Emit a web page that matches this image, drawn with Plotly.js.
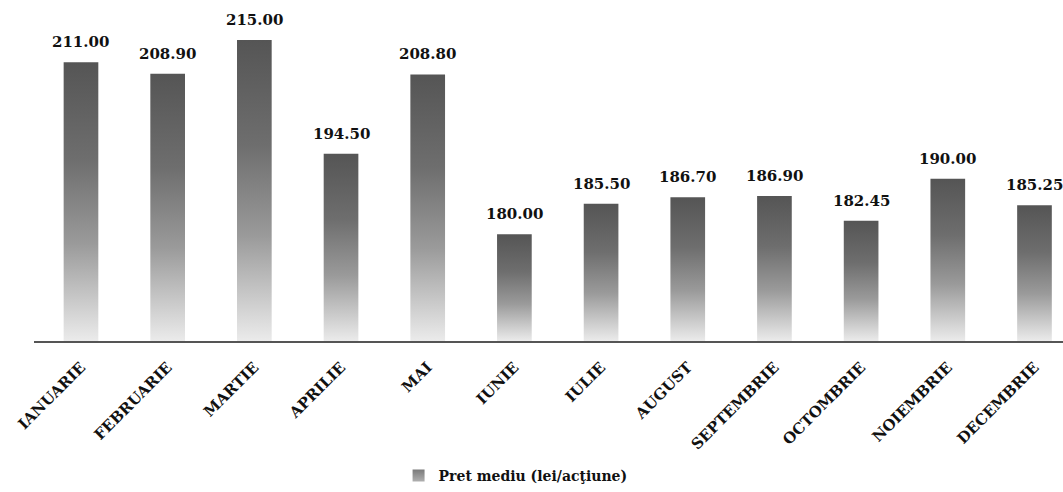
<!DOCTYPE html>
<html>
<head>
<meta charset="utf-8">
<script src="https://cdn.plot.ly/plotly-3.0.1.min.js"></script>
<style>
  html, body { margin: 0; padding: 0; background: #ffffff; }
  #chart { width: 1063px; height: 492px; }
</style>
</head>
<body>
<div id="chart"></div>
<script>
const months = ["IANUARIE", "FEBRUARIE", "MARTIE", "APRILIE", "MAI", "IUNIE", "IULIE", "AUGUST", "SEPTEMBRIE", "OCTOMBRIE", "NOIEMBRIE", "DECEMBRIE"];
const prices = [211.00, 208.90, 215.00, 194.50, 208.80, 180.00, 185.50, 186.70, 186.90, 182.45, 190.00, 185.25];
const priceLabels = ["211.00", "208.90", "215.00", "194.50", "208.80", "180.00", "185.50", "186.70", "186.90", "182.45", "190.00", "185.25"];
const seriesName = "Pret mediu (lei/acţiune)";

const FONT = "DejaVu Serif, Liberation Serif, serif";
const gradStops = [["0", "#555555"], ["0.35", "#6e6e6e"], ["0.65", "#9a9a9a"], ["1", "#ebebeb"]];
const legendStops = [["0", "#7a7a7a"], ["1", "#b0b0b0"]];

const trace = {
  type: "bar",
  x: months,
  y: prices,
  name: seriesName,
  width: 0.4,
  marker: { color: "#808080", line: { width: 0 } },
  textposition: "none",
  hoverinfo: "skip",
  showlegend: true
};

const annotations = months.map((m, i) => ({
  x: m,
  y: prices[i],
  xref: "x",
  yref: "y",
  text: priceLabels[i],
  showarrow: false,
  yanchor: "bottom",
  xanchor: "center",
  yshift: 9,
  font: { family: FONT, size: 15, color: "#111111", weight: "bold" }
}));

const layout = {
  width: 1063,
  height: 492,
  margin: { l: 34, r: 0, t: 0, b: 150 },
  paper_bgcolor: "#ffffff",
  plot_bgcolor: "#ffffff",
  showlegend: true,
  legend: {
    orientation: "h",
    x: 0.468,
    xanchor: "center",
    y: -0.395,
    yanchor: "middle",
    font: { family: FONT, size: 14, color: "#111111", weight: "bold" },
    itemwidth: 30,
    bgcolor: "rgba(0,0,0,0)"
  },
  xaxis: {
    type: "category",
    range: [-0.542, 11.329],
    tickangle: -45,
    tickfont: { family: FONT, size: 15, color: "#111111", weight: "bold" },
    ticklabelstandoff: 10,
    showline: true,
    linecolor: "#555555",
    linewidth: 1.5,
    ticks: "",
    showgrid: false,
    zeroline: false,
    automargin: false
  },
  yaxis: {
    range: [160.8, 222.2],
    visible: false,
    showgrid: false,
    zeroline: false,
    fixedrange: true
  },
  annotations: annotations,
  bargap: 0.6
};

function applyGradients(gd) {
  const svgNS = "http://www.w3.org/2000/svg";
  const svg = gd.querySelector("svg.main-svg");
  let defs = svg.querySelector("defs");
  if (!defs) { defs = document.createElementNS(svgNS, "defs"); svg.insertBefore(defs, svg.firstChild); }
  const plotH = gd._fullLayout._size.h;
  const barPaths = Array.from(gd.querySelectorAll(".bars .point path"));
  const legPaths = Array.from(gd.querySelectorAll(".legendpoints path"));
  const all = barPaths.map(p => [p, true]).concat(legPaths.map(p => [p, false]));
  all.forEach(([p, isBar], k) => {
    const bb = p.getBBox();
    const id = "barGrad" + k;
    const old = document.getElementById(id);
    if (old) old.remove();
    let y1 = bb.y, y2 = bb.y + bb.height;
    if (isBar) { y1 = Math.max(y1, 0); y2 = Math.min(y2, plotH); }
    const grad = document.createElementNS(svgNS, "linearGradient");
    grad.setAttribute("id", id);
    grad.setAttribute("gradientUnits", "userSpaceOnUse");
    grad.setAttribute("x1", bb.x); grad.setAttribute("y1", y1);
    grad.setAttribute("x2", bb.x); grad.setAttribute("y2", y2);
    (isBar ? gradStops : legendStops).forEach(([o, c]) => {
      const s = document.createElementNS(svgNS, "stop");
      s.setAttribute("offset", o);
      s.setAttribute("stop-color", c);
      s.setAttribute("style", "stop-color:" + c + ";stop-opacity:1");
      grad.appendChild(s);
    });
    defs.appendChild(grad);
    p.setAttribute("fill", "url(#" + id + ")");
    p.style.setProperty("fill", "url(#" + id + ")", "important");
    p.style.setProperty("fill-opacity", "1", "important");
  });
}

Plotly.newPlot("chart", [trace], layout, { displayModeBar: false, staticPlot: true }).then(gd => {
  applyGradients(gd);
  setTimeout(() => applyGradients(gd), 50);
});
</script>
</body>
</html>
